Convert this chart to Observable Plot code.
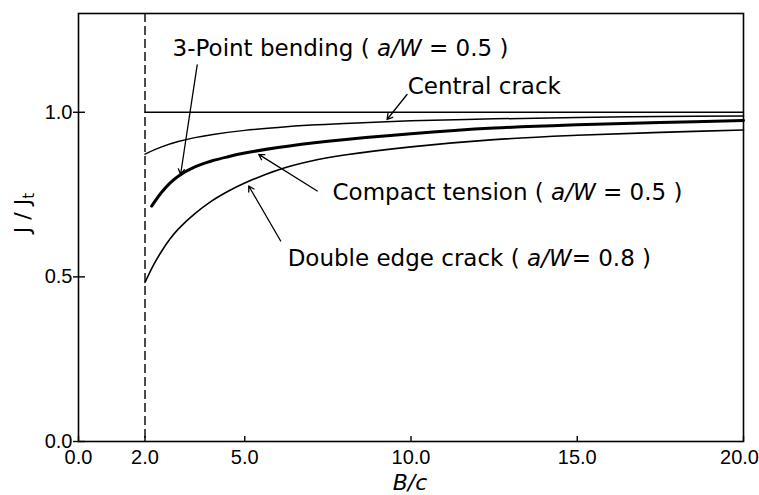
<!DOCTYPE html>
<html>
<head>
<meta charset="utf-8">
<script src="https://cdn.jsdelivr.net/npm/d3@7"></script>
<script src="https://cdn.jsdelivr.net/npm/@observablehq/plot@0.6"></script>
<style>
  html, body { margin: 0; padding: 0; background: #fff; }
  #chart { width: 759px; height: 495px; }
</style>
</head>
<body>
<div id="chart"></div>
<script>
// ---- data ----
const xTicks = [0, 2, 5, 10, 15];
const xLastTick = [20];
const yTicks = [0, 0.5, 1.0];
const xDomain = [0, 20];
const yDomain = [0, 1.3];
const bcLimit = 2.0;            // dashed vertical line at B/c = 2
const refLevel = 1.0;            // J/Jt = 1 reference line

const centralX = [2, 2.5, 3, 3.5, 4, 5, 6, 7, 8, 10, 12.5, 15, 17.5, 20];
const centralY = [0.873, 0.895, 0.911, 0.923, 0.932, 0.945, 0.954, 0.961, 0.966, 0.974, 0.980, 0.984, 0.987, 0.989];

const compactX = [2.2, 2.5, 2.75, 3, 3.5, 4, 4.5, 5, 6, 7.5, 10, 12.5, 15, 17.5, 20];
const compactY = [0.715, 0.757, 0.785, 0.806, 0.834, 0.852, 0.865, 0.876, 0.893, 0.912, 0.935, 0.952, 0.962, 0.969, 0.975];

const doubleX = [2, 2.25, 2.5, 2.75, 3, 3.5, 4, 4.5, 5, 6, 7, 8, 10, 12.5, 15, 17.5, 20];
const doubleY = [0.483, 0.535, 0.578, 0.615, 0.645, 0.692, 0.730, 0.760, 0.785, 0.825, 0.852, 0.870, 0.895, 0.917, 0.930, 0.939, 0.946];

const labelText = ["3-Point bending ( a/W = 0.5 )", "Central crack", "Compact tension ( a/W = 0.5 )", "Double edge crack ( a/W= 0.8 )"];
const labelX = [2.83, 9.9, 7.64, 6.29];
const labelY = [1.194, 1.079, 0.755, 0.555];

const arrowX1 = [3.57, 9.88, 7.18, 6.08];
const arrowY1 = [1.144, 1.054, 0.761, 0.609];
const arrowX2 = [3.07, 9.28, 5.42, 5.12];
const arrowY2 = [0.811, 0.978, 0.872, 0.776];

// ---- build tables ----
const toRows = (xs, ys) => xs.map((x, i) => ({x, y: ys[i]}));
const central = toRows(centralX, centralY);
const compact = toRows(compactX, compactY);
const dbl = toRows(doubleX, doubleY);
const labels = labelText.map((t, i) => ({t, x: labelX[i], y: labelY[i]}));
const arrows = arrowX1.map((x1, i) => ({x1, y1: arrowY1[i], x2: arrowX2[i], y2: arrowY2[i]}));

const fmt = d => d.toFixed(1);
const chart = Plot.plot({
  width: 759,
  height: 495,
  marginLeft: 78,
  marginRight: 16,
  marginTop: 13,
  marginBottom: 54,
  style: {background: "#fff", color: "#000", fontFamily: "'Liberation Sans', Arial, sans-serif"},
  x: {domain: xDomain},
  y: {domain: yDomain},
  marks: [
    Plot.frame({stroke: "#000", strokeWidth: 1.6}),
    Plot.ruleX([bcLimit], {stroke: "#000", strokeWidth: 1.4, strokeDasharray: "9,4"}),
    Plot.ruleY([refLevel], {x1: bcLimit, x2: xDomain[1], stroke: "#000", strokeWidth: 1.5}),
    Plot.line(central, {x: "x", y: "y", curve: "catmull-rom", stroke: "#000", strokeWidth: 1.5}),
    Plot.line(compact, {x: "x", y: "y", curve: "catmull-rom", stroke: "#000", strokeWidth: 3}),
    Plot.line(dbl, {x: "x", y: "y", curve: "catmull-rom", stroke: "#000", strokeWidth: 1.6}),
    Plot.arrow(arrows, {x1: "x1", y1: "y1", x2: "x2", y2: "y2", stroke: "#000", strokeWidth: 1.3, headLength: 7}),
    Plot.text(labels, {x: "x", y: "y", text: "t", textAnchor: "start", fontSize: 23, fontFamily: "'DejaVu Sans', sans-serif", fill: "#000"}),
    // x axis: labels + inward ticks
    Plot.axisX({ticks: xTicks, tickFormat: fmt, tickSize: 0, tickPadding: 8, fontSize: 20, label: null}),
    Plot.axisX({ticks: xLastTick, tickFormat: fmt, tickSize: 0, tickPadding: 8, fontSize: 20, label: null, dx: -4}),
    Plot.axisX({ticks: xTicks.concat(xLastTick), tickFormat: () => "", tickSize: -5, label: null, strokeWidth: 1.4}),
    // y axis: labels + crossing ticks
    Plot.axisY({ticks: yTicks, tickFormat: fmt, tickSize: 5, tickPadding: 1, fontSize: 20, label: null, strokeWidth: 1.4}),
    Plot.axisY({ticks: yTicks, tickFormat: () => "", tickSize: -7, label: null, strokeWidth: 1.4})
  ]
});

// italic "a/W" in annotations
d3.select(chart).selectAll("text").each(function () {
  const s = this.textContent;
  const k = s.indexOf("a/W");
  if (k < 0) return;
  const target = this.querySelector("tspan") ? d3.select(this.querySelector("tspan")) : d3.select(this);
  target.text(null);
  target.append("tspan").text(s.slice(0, k));
  target.append("tspan").attr("font-style", "italic").text("a/W");
  target.append("tspan").text(s.slice(k + 3));
});

const svg = d3.select(chart);
// axis titles
svg.append("text")
  .attr("x", 410).attr("y", 484)
  .attr("text-anchor", "middle").attr("dominant-baseline", "middle")
  .attr("font-family", "'DejaVu Sans', sans-serif").attr("font-size", 22)
  .attr("font-style", "italic").attr("fill", "#000")
  .text("B/c");
const yt = svg.append("text")
  .attr("transform", "translate(24,213) rotate(-90)")
  .attr("text-anchor", "middle").attr("dominant-baseline", "middle")
  .attr("font-family", "'DejaVu Sans', sans-serif").attr("font-size", 22)
  .attr("fill", "#000");
yt.append("tspan").text("J / J");
yt.append("tspan").attr("font-size", 15).attr("dy", 5).text("t");

document.getElementById("chart").appendChild(chart);
</script>
</body>
</html>
